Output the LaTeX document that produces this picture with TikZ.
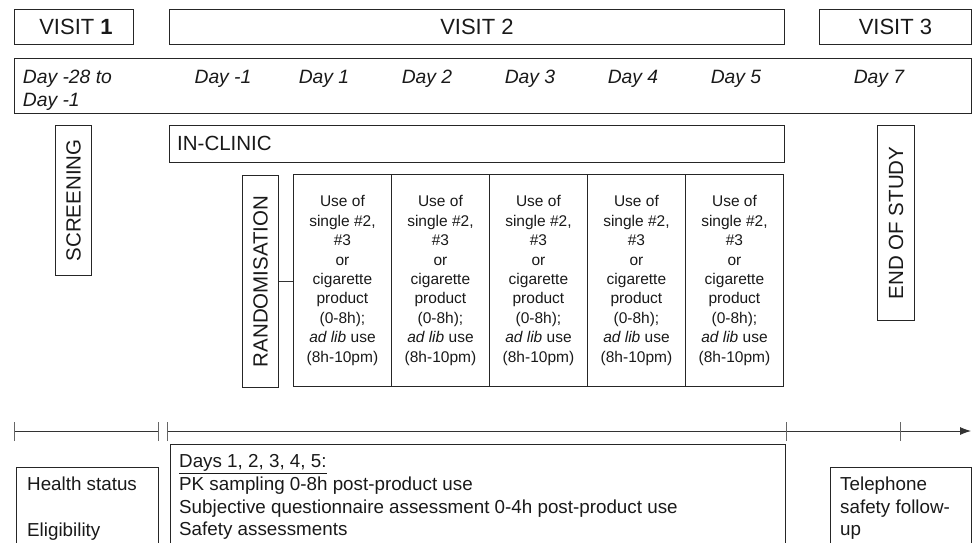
\documentclass[tikz,border=0pt]{standalone}
\usepackage{fontspec}
\setmainfont{Liberation Sans}
\usetikzlibrary{arrows.meta}
\newcommand{\visfont}{\fontsize{22}{26}\selectfont}
\newcommand{\dayfont}{\fontsize{19.3}{23}\selectfont\itshape}
\newcommand{\vertfont}{\fontsize{20.5}{24}\selectfont}
\newcommand{\prodfont}{\fontsize{15.5}{19.4}\selectfont}
\newcommand{\botfont}{\fontsize{18.8}{22.7}\selectfont}
\begin{document}
\begin{tikzpicture}[x=1pt,y=-1pt,
  box/.style={draw=black!85, line width=0.9pt, inner sep=0pt, anchor=north west},
  txt/.style={inner sep=0pt, text=black!90},
  tl/.style={draw=black!80, line width=0.8pt},
  tick/.style={draw=black!60, line width=0.8pt}]
\useasboundingbox (0,0) rectangle (972,542);
\clip (0,0) rectangle (972,542);
% visits
\node[box, minimum width=119, minimum height=35] (v1) at (14,9) {};
\node[box, minimum width=615, minimum height=35] (v2) at (169,9) {};
\node[box, minimum width=152, minimum height=35] (v3) at (819,9) {};
\node[txt, font=\visfont] (v1t) at (76,26.5) {VISIT \textbf{1}};
\node[txt, font=\visfont] (v2t) at (v2.center) {VISIT 2};
\node[txt, font=\visfont] (v3t) at (v3.center) {VISIT 3};
% days row
\node[box, minimum width=957, minimum height=55] (days) at (14,58) {};
\node[txt, font=\dayfont, anchor=base west] (d0a) at (22.7,83.8) {Day -28 to};
\node[txt, font=\dayfont, anchor=base west] (d0b) at (22.7,106.8) {Day -1};
\node[txt, font=\dayfont, anchor=base] (dm1) at (223,83.8) {Day -1};
\node[txt, font=\dayfont, anchor=base] (d1) at (324,83.8) {Day 1};
\node[txt, font=\dayfont, anchor=base] (d2) at (427,83.8) {Day 2};
\node[txt, font=\dayfont, anchor=base] (d3) at (530,83.8) {Day 3};
\node[txt, font=\dayfont, anchor=base] (d4) at (633,83.8) {Day 4};
\node[txt, font=\dayfont, anchor=base] (d5) at (736,83.8) {Day 5};
\node[txt, font=\dayfont, anchor=base] (d7) at (879,83.8) {Day 7};
% in-clinic
\node[box, minimum width=615, minimum height=37] (clinic) at (169,125) {};
\node[txt, font=\vertfont, anchor=west] (clinict) at (177,143.5) {IN-CLINIC};
% vertical boxes
\node[box, minimum width=36, minimum height=150] (scr) at (55,125) {};
\node[txt, font=\vertfont, rotate=90] (scrt) at (scr.center) {SCREENING};
\node[box, minimum width=37, minimum height=195] (eos) at (877,125) {};
\node[txt, font=\vertfont, rotate=90] (eost) at (eos.center) {END OF STUDY};
\node[box, minimum width=36, minimum height=212] (rnd) at (242,175) {};
\node[txt, font=\vertfont, rotate=90] (rndt) at (rnd.center) {RANDOMISATION};
% product boxes
\foreach \i [evaluate=\i as \xx using 293+98*(\i-1)] in {1,...,5}{
  \node[box, minimum width=98, minimum height=212, align=center, font=\prodfont, text=black!90] (p\i) at (\xx,174)
  {Use of\\single \#2,\\\#3\\or\\cigarette\\product\\(0-8h);\\\textit{ad lib} use\\(8h-10pm)};
}
\draw[tl] (rnd.east) -- (p1.west |- rnd.east);
% timeline
\coordinate (t0) at (14,431);
\coordinate (t1) at (158,431);
\coordinate (t2) at (167,431);
\coordinate (t3) at (786,431);
\coordinate (t4) at (900,431);
\coordinate (tend) at (971,431);
\draw[tl] (t0) -- (t1);
\draw[tl, -{Latex[length=11pt,width=8pt]}] (t2) -- (tend);
\foreach \c in {t0,t1,t2,t3,t4}{
  \draw[tick] ([yshift=-10pt]\c) -- ([yshift=9pt]\c);
}
% bottom boxes
\node[box, minimum width=142, minimum height=100] (hb) at (16,467) {};
\node[txt, font=\botfont, anchor=base west] (hb1) at (27,490.7) {Health status};
\node[txt, font=\botfont, anchor=base west] (hb2) at (27,536) {Eligibility};
\node[box, minimum width=615, minimum height=120] (bb) at (170,444) {};
\node[txt, font=\botfont, anchor=base west] (bb1) at (179,467.5) {\underline{Days 1, 2, 3, 4, 5:}};
\node[txt, font=\botfont, anchor=base west] (bb2) at (179,490.5) {PK sampling 0-8h post-product use};
\node[txt, font=\botfont, anchor=base west] (bb3) at (179,513) {Subjective questionnaire assessment 0-4h post-product use};
\node[txt, font=\botfont, anchor=base west] (bb4) at (179,535.5) {Safety assessments};
\node[box, minimum width=141, minimum height=100] (tb) at (830,467) {};
\node[txt, font=\botfont, anchor=base west] (tb1) at (840,490.7) {Telephone};
\node[txt, font=\botfont, anchor=base west] (tb2) at (840,513) {safety follow-};
\node[txt, font=\botfont, anchor=base west] (tb3) at (840,535.5) {up};
\end{tikzpicture}
\end{document}
